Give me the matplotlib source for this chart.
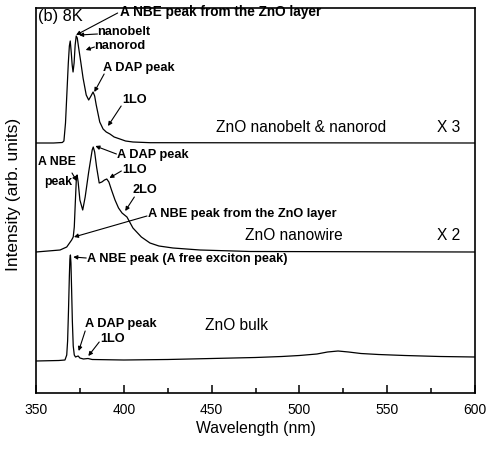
import numpy as np
import matplotlib
matplotlib.use('Agg')
import matplotlib.pyplot as plt

plt.rcParams['font.family'] = ['Liberation Sans', 'DejaVu Sans']

# ZnO nanobelt & nanorod (x3)
wl_top = [350, 360, 365.0, 365.9, 366.8, 367.6, 368.4, 369.0, 369.5, 370.1, 370.6, 371.1, 371.7,
          372.3, 372.9, 373.5, 374.3, 375.5, 376.8, 378.6, 380.0, 381.3, 382.5, 383.4, 384.3,
          386.3, 388.2, 390.0, 392.1, 394.5, 397.8, 401.0, 405.2, 415, 600]
int_top = [0, 0, 0.5, 2, 20, 50, 80, 97, 102, 90, 78, 71, 80, 98, 107, 105, 95, 81, 65, 48, 43,
           47, 51, 47, 38, 21, 14, 11, 9, 6, 4, 2, 1, 0.3, 0]

# ZnO nanowire (x2)
wl_mid = [350, 363.7, 367.5, 370.3, 371.2, 371.8, 372.4, 373.0, 373.4, 374.0, 375.0, 376.6,
          378.0, 380.0, 382.0, 382.6, 383.4, 384.5, 386.0, 387.5, 389.0, 390.3, 391.5, 393.0,
          395.0, 397.0, 399.0, 401.8, 405.2, 410.0, 414.9, 420, 428.0, 443.4, 472, 600]
int_mid = [0, 2, 5, 12, 15, 25, 50, 74, 77, 70, 52, 42, 55, 80, 102, 105, 100, 85, 69, 70, 72,
           73, 70, 62, 52, 44, 39, 35, 24, 15, 9, 6, 4, 2, 0.5, 0]

# ZnO bulk
wl_bot = [350, 363, 366.5, 367.5, 368.0, 368.5, 369.0, 369.3, 369.6, 369.9, 370.3, 370.7,
          371.2, 371.8, 372.5, 373.2, 374.0, 375.0, 377.0, 379.6, 382, 400, 425, 450, 475,
          490, 500, 510, 516, 522, 528, 535, 545, 560, 580, 600]
int_bot = [0, 0.5, 1, 6, 20, 50, 85, 102, 106, 98, 70, 40, 15, 6, 4, 4.5, 5, 3, 2, 2.5, 1.5,
           1, 1.5, 2.5, 3.5, 4.5, 5.5, 7, 9, 10, 9, 7.5, 6.5, 5.5, 4.5, 4]

offset_top = 250
offset_mid = 141
offset_bot = 32

fig = plt.figure(figsize=(4.87, 4.49), dpi=100)
ax = fig.add_axes([36 / 487, 56 / 449, 439 / 487, 385 / 449])

for wl, it, off in [(wl_top, int_top, offset_top), (wl_mid, int_mid, offset_mid),
                    (wl_bot, int_bot, offset_bot)]:
    ax.plot(wl, np.array(it) + off, color='black', lw=0.9)

ax.set_xlim(350, 600)
ax.set_ylim(0, 385)
ax.set_xticks(np.arange(350, 601, 50))
ax.set_xticks(np.arange(375, 600, 50), minor=True)
ax.set_yticks([])
ax.tick_params(axis='x', which='major', direction='in', length=6, width=1.1, labelsize=10, pad=7)
ax.tick_params(axis='x', which='minor', direction='in', length=3.5, width=1.1)
for s in ax.spines.values():
    s.set_linewidth(1.2)

fig.text(14 / 487, 1 - 194 / 449, 'Intensity (arb. units)', rotation=90, ha='center', va='center', fontsize=12.5)
fig.text(256 / 487, 1 - 428 / 449, 'Wavelength (nm)', ha='center', va='center', fontsize=11.3)

small = dict(fontsize=9.2, fontweight='bold', ha='left', va='center')
big = dict(fontsize=11.2, ha='left', va='center')


def arrow(start, end):
    ax.annotate('', xy=end, xytext=start,
                arrowprops=dict(arrowstyle='-|>', color='black', lw=0.8, mutation_scale=6,
                                shrinkA=0, shrinkB=0))


# top panel
ax.text(351.1, 376, '(b) 8K', fontsize=11.8, ha='left', va='center')
ax.text(397.8, 381, 'A NBE peak from the ZnO layer', **dict(small, fontsize=9.8))
arrow((396.5, 380), (372.8, 358))
ax.text(385.0, 361, 'nanobelt', **small)
arrow((385.0, 359), (374.5, 358))
ax.text(383.3, 347, 'nanorod', **small)
arrow((383.3, 346), (378.3, 343))
ax.text(388.2, 325, 'A DAP peak', **small)
arrow((388.8, 319), (383.2, 301))
ax.text(399.0, 293, '1LO', **small)
arrow((398.5, 287), (391.0, 267))
ax.text(452.5, 266, 'ZnO nanobelt & nanorod', **big)
ax.text(578.4, 266, 'X 3', **big)

# middle panel
ax.text(351.2, 231, 'A NBE', **dict(small, fontsize=8.8))
ax.text(370.5, 211, 'peak', **dict(small, fontsize=8.8, ha='right'))
arrow((370.5, 220), (373.2, 212))
ax.text(396.1, 238, 'A DAP peak', **small)
arrow((395.8, 239), (383.8, 247))
ax.text(399.0, 223, '1LO', **small)
arrow((398.6, 222), (391.8, 215))
ax.text(405.2, 203, '2LO', **small)
arrow((406.0, 196), (400.8, 182))
ax.text(413.8, 179, 'A NBE peak from the ZnO layer', **small)
arrow((413.2, 177), (371.6, 156))
ax.text(469.0, 157, 'ZnO nanowire', **big)
ax.text(578.4, 157, 'X 2', **big)

# bottom panel
ax.text(379.0, 134, 'A NBE peak (A free exciton peak)', **small)
arrow((378.6, 135), (371.2, 136))
ax.text(377.9, 69, 'A DAP peak', **small)
arrow((378.0, 62), (374.3, 42))
ax.text(386.4, 54, '1LO', **small)
arrow((386.0, 51), (379.8, 37))
ax.text(446.2, 68, 'ZnO bulk', **big)

fig.savefig('out.png', dpi=100)
